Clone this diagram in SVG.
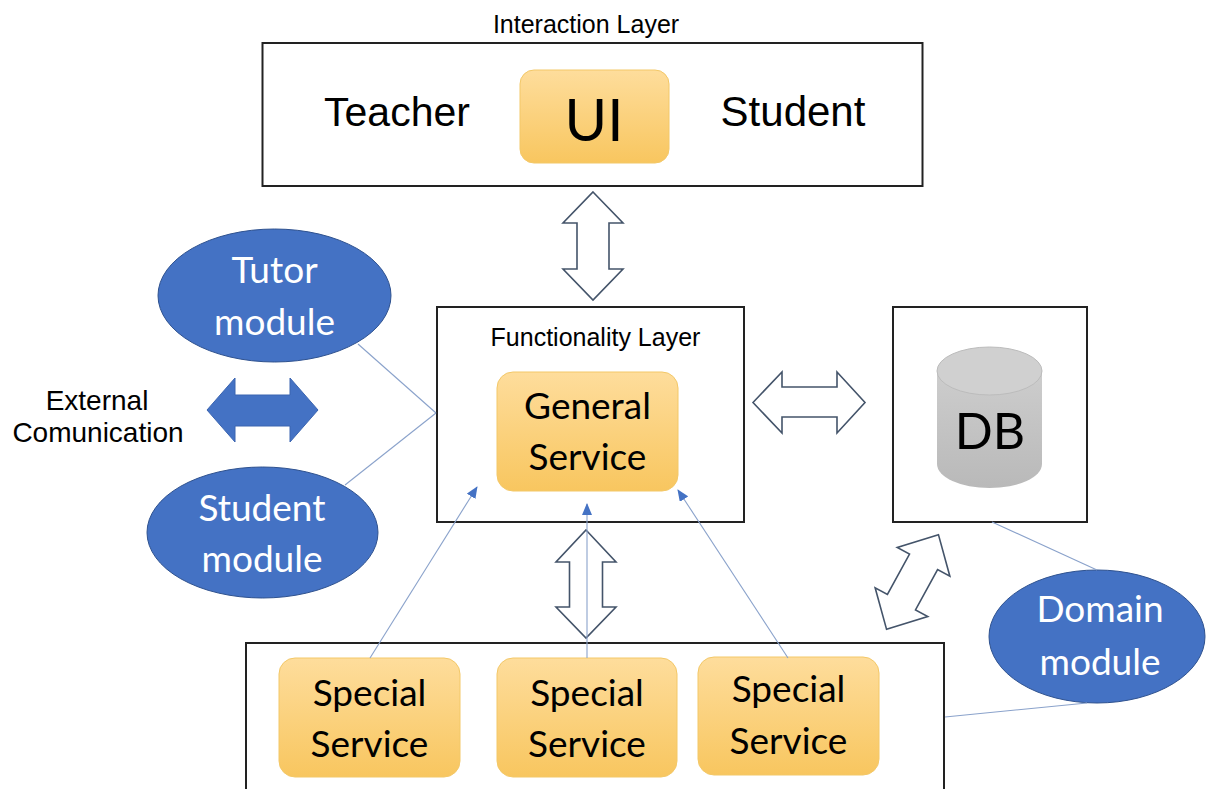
<svg xmlns="http://www.w3.org/2000/svg" width="1206" height="789" viewBox="0 0 1206 789">
<defs>
<linearGradient id="og" x1="0" y1="0" x2="0" y2="1"><stop offset="0" stop-color="#FEDD9C"/><stop offset="1" stop-color="#F8C65F"/></linearGradient>
<linearGradient id="gg" x1="0" y1="0" x2="0" y2="1"><stop offset="0" stop-color="#cdcdcd"/><stop offset="1" stop-color="#b9b9b9"/></linearGradient>
<marker id="ah" markerWidth="12" markerHeight="10" refX="11" refY="5" orient="auto" markerUnits="userSpaceOnUse"><path d="M0,0 L12,5 L0,10 Z" fill="#4472C4"/></marker>
<style>
.box{fill:#fff;stroke:#222;stroke-width:2}
.svc{fill:url(#og);stroke:#F3C868;stroke-width:1}
.ell{fill:#4472C4;stroke:#2F528F;stroke-width:1}
.oa{fill:#fff;stroke:#44546A;stroke-width:1.6;stroke-linejoin:miter}
.ln{stroke:#8AA2CB;stroke-width:1.1;fill:none}
.ar{font-family:"Liberation Sans",Arial,sans-serif;fill:#000}
.ca{font-family:Lato,"Open Sans",sans-serif;font-size:37px;text-anchor:middle}
.wt{fill:#fff}
.bk{fill:#000}
</style>
</defs>
<rect width="1206" height="789" fill="#fff"/>

<g id="interaction-layer">
<text class="ar" x="586" y="33" font-size="25" text-anchor="middle">Interaction Layer</text>
<rect class="box" x="262.5" y="43" width="660" height="143"/>
<text class="ar" x="397" y="126" font-size="41" text-anchor="middle">Teacher</text>
<text class="ar" x="793" y="126" font-size="42" text-anchor="middle">Student</text>
</g>
<g id="ui">
<rect class="svc" x="520" y="70" width="149" height="93" rx="14"/>
<text class="ca bk" x="594" y="141" style="font-size:58px">UI</text>
</g>

<g id="functionality-layer">
<rect class="box" x="437" y="307" width="307" height="215"/>
<text class="ar" x="595.5" y="346" font-size="25" text-anchor="middle">Functionality Layer</text>
</g>
<g id="general-service">
<rect class="svc" x="497" y="372" width="181" height="119" rx="16"/>
<text class="ca bk" x="587.5" y="419">General</text>
<text class="ca bk" x="587.5" y="470">Service</text>
</g>

<g id="db-box">
<rect class="box" x="893" y="307" width="194" height="215"/>
</g>
<g id="db">
<path d="M937,371 L937,464 A52.5,24 0 0 0 1042,464 L1042,371 Z" fill="url(#gg)"/>
<ellipse cx="989.5" cy="371" rx="52.5" ry="24" fill="#d0d0d0" stroke="#bcbcbc" stroke-width="1"/>
<text class="ca bk" x="990" y="449" style="font-size:50px">DB</text>
</g>

<g id="tutor-module">
<ellipse class="ell" cx="274.5" cy="295.5" rx="116.5" ry="66.5"/>
<text class="ca wt" x="274.5" y="283">Tutor</text>
<text class="ca wt" x="274.5" y="335">module</text>
</g>
<g id="student-module">
<ellipse class="ell" cx="262.5" cy="532.5" rx="115.5" ry="65.5"/>
<text class="ca wt" x="262" y="521">Student</text>
<text class="ca wt" x="262" y="572">module</text>
</g>
<g id="domain-module">
<ellipse class="ell" cx="1097" cy="636.5" rx="108" ry="66.5"/>
<text class="ca wt" x="1100" y="622">Domain</text>
<text class="ca wt" x="1100" y="675">module</text>
</g>

<g id="external-communication">
<text class="ar" x="97" y="410" font-size="28" text-anchor="middle">External</text>
<text class="ar" x="98" y="442" font-size="28" text-anchor="middle">Comunication</text>
<polygon points="207,410 235,378 235,395 290,395 290,378 318,410 290,442 290,426 235,426 235,442" fill="#4472C4" stroke="#3A64B0" stroke-width="1"/>
</g>

<g id="special-layer">
<path class="box" d="M246,800 L246,643 L944,643 L944,800"/>
</g>
<g id="special-service-1">
<rect class="svc" x="279" y="658" width="181" height="119" rx="16"/>
<text class="ca bk" x="369.5" y="706">Special</text>
<text class="ca bk" x="369.5" y="757">Service</text>
</g>
<g id="special-service-2">
<rect class="svc" x="497" y="658" width="180" height="119" rx="16"/>
<text class="ca bk" x="587" y="706">Special</text>
<text class="ca bk" x="587" y="757">Service</text>
</g>
<g id="special-service-3">
<rect class="svc" x="698" y="657" width="181" height="118" rx="16"/>
<text class="ca bk" x="788.5" y="702">Special</text>
<text class="ca bk" x="788.5" y="754">Service</text>
</g>

<g id="connectors">
<polygon class="oa" transform="translate(593,246)" points="0,-54 30,-23 16,-23 16,23 30,23 0,54 -30,23 -16,23 -16,-23 -30,-23"/>
<polygon class="oa" transform="translate(586,584)" points="0,-54 30,-22 16.5,-22 16.5,23 30,23 0,54 -30,23 -16.5,23 -16.5,-22 -30,-22"/>
<polygon class="oa" points="753,402.5 782,372 782,387 837,387 837,372 865,402.5 837,433 837,417 782,417 782,433"/>
<polygon class="oa" transform="translate(912.5,582) rotate(28.7)" points="0,-54 30,-23 16,-23 16,23 30,23 0,54 -30,23 -16,23 -16,-23 -30,-23"/>
<line class="ln" x1="358" y1="344" x2="436" y2="413"/>
<line class="ln" x1="345" y1="485" x2="436" y2="413"/>
<line class="ln" x1="992" y1="522" x2="1097" y2="570"/>
<line class="ln" x1="945" y1="717" x2="1087" y2="703"/>
<line class="ln" x1="370" y1="658" x2="477" y2="487" marker-end="url(#ah)"/>
<line class="ln" x1="587" y1="658" x2="587" y2="504" marker-end="url(#ah)"/>
<line class="ln" x1="788" y1="658" x2="678" y2="490" marker-end="url(#ah)"/>
</g>
</svg>
